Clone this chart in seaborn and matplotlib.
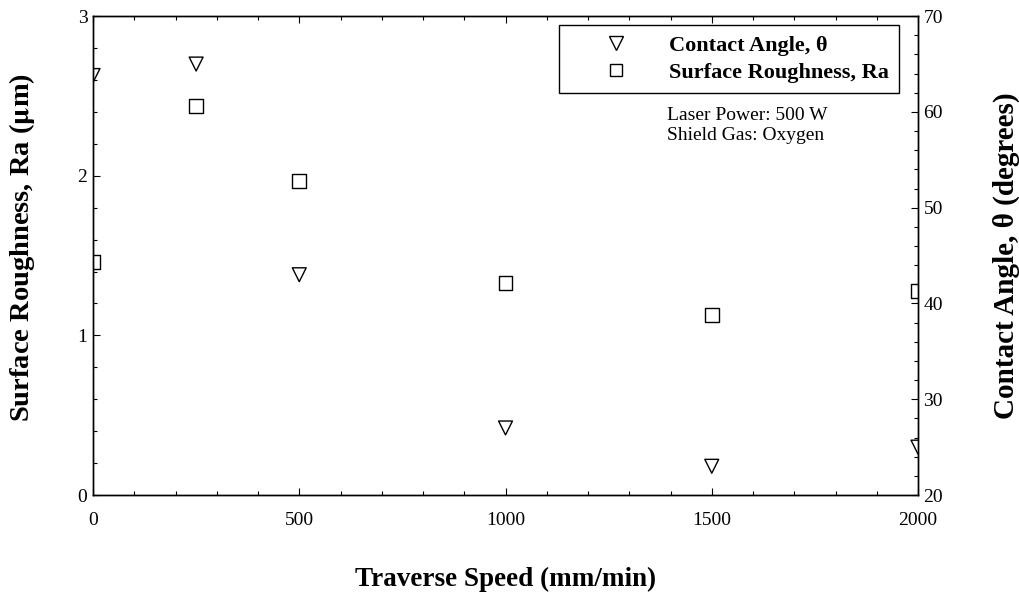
import numpy as np
import pandas as pd
import matplotlib
matplotlib.use("Agg")
import matplotlib.pyplot as plt
from matplotlib.ticker import MultipleLocator
from matplotlib.lines import Line2D
import seaborn as sns

# data
speed = [0, 250, 500, 1000, 1500, 2000]
roughness = [1.46, 2.44, 1.97, 1.33, 1.13, 1.28]
contact_angle = [63.8, 65.0, 43.0, 27.0, 23.0, 25.0]

sns.set_style("ticks")
plt.rcParams['font.family'] = ['Liberation Serif', 'DejaVu Serif']
plt.rcParams['mathtext.fontset'] = 'stix'
for key in ("text.color", "axes.labelcolor", "xtick.color", "ytick.color",
            "axes.edgecolor"):
    plt.rcParams[key] = "black"

df = pd.DataFrame({"speed": speed, "ra": roughness, "theta": contact_angle})

fig, ax = plt.subplots(figsize=(10.2, 5.99), dpi=100)
fig.subplots_adjust(left=0.0912, right=0.9, top=0.973, bottom=0.1736)
ax2 = ax.twinx()

sns.scatterplot(data=df, x="speed", y="ra", ax=ax, marker="s", s=100,
                facecolor="none", edgecolor="black", linewidth=1.0, legend=False)
sns.scatterplot(data=df, x="speed", y="theta", ax=ax2, marker="v", s=100,
                facecolor="none", edgecolor="black", linewidth=1.0, legend=False)

ax.set_xlim(0, 2000)
ax.set_ylim(0, 3)
ax2.set_ylim(20, 70)

ax.xaxis.set_major_locator(MultipleLocator(500))
ax.xaxis.set_minor_locator(MultipleLocator(100))
ax.yaxis.set_major_locator(MultipleLocator(1))
ax.yaxis.set_minor_locator(MultipleLocator(0.2))
ax2.yaxis.set_major_locator(MultipleLocator(10))
ax2.yaxis.set_minor_locator(MultipleLocator(2))

ax.tick_params(which="both", direction="in", top=True, right=False,
               labelsize=14, width=0.8)
ax.tick_params(axis="y", pad=4)
ax.tick_params(axis="x", pad=12)
ax.tick_params(which="major", length=5)
ax.tick_params(which="minor", length=3)
ax2.tick_params(which="both", direction="in", labelsize=14, pad=4, width=0.8)
ax2.tick_params(which="major", length=5)
ax2.tick_params(which="minor", length=3)

for a in (ax, ax2):
    for sp in a.spines.values():
        sp.set_linewidth(1.0)
        sp.set_color("black")
        sp.set_visible(True)

ax.set_xlabel("Traverse Speed (mm/min)", fontsize=19.5, fontweight="bold")
ax.set_ylabel(r"Surface Roughness, Ra ($\mathbf{\mu}$m)", fontsize=20.5, fontweight="bold")
ax2.set_ylabel("Contact Angle, θ (degrees)", fontsize=21, fontweight="bold")
ax.xaxis.set_label_coords(0.5, -0.149)
ax.yaxis.set_label_coords(-0.068, 0.516)
ax2.yaxis.set_label_coords(1.091, 0.5)

handles = [
    Line2D([], [], marker="v", linestyle="none", markersize=10,
           markerfacecolor="none", markeredgecolor="black", markeredgewidth=1.0),
    Line2D([], [], marker="s", linestyle="none", markersize=9,
           markerfacecolor="none", markeredgecolor="black", markeredgewidth=1.0),
]
leg = ax2.legend(handles, ["Contact Angle, θ", "Surface Roughness, Ra"],
                 loc="upper right", bbox_to_anchor=(0.977, 0.981),
                 prop={"weight": "bold", "size": 16}, fancybox=False,
                 frameon=True, edgecolor="black", framealpha=1,
                 handletextpad=0.3, borderpad=0.45, labelspacing=0.3,
                 handlelength=4.2, borderaxespad=0)
leg.get_frame().set_linewidth(1.0)

ax2.text(0.696, 0.81, "Laser Power: 500 W\nShield Gas: Oxygen",
         transform=ax2.transAxes, fontsize=14, va="top", ha="left",
         linespacing=1.2)

fig.savefig("out.png", dpi=100)
